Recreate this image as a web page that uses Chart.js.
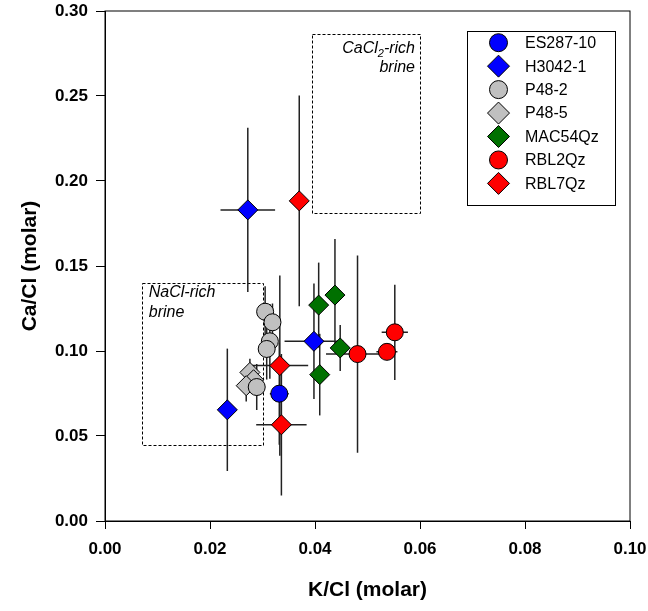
<!DOCTYPE html>
<html>
<head>
<meta charset="utf-8">
<script src="https://cdn.jsdelivr.net/npm/chart.js@4.4.1/dist/chart.umd.min.js"></script>
<style>
  html, body { margin: 0; padding: 0; background: #fff; }
</style>
</head>
<body>
<canvas id="chart" width="648" height="611"></canvas>
<script>
// ---- data: x = K/Cl, y = Ca/Cl (molar), with +/- errors ----
const seriesNames = ['ES287-10', 'H3042-1', 'P48-2', 'P48-5', 'MAC54Qz', 'RBL2Qz', 'RBL7Qz'];

const es287X    = [0.0332];
const es287Y    = [0.0749];
const es287XErr = [0.0018];
const es287YErr = [0.030];

const h3042X    = [0.0272, 0.0233, 0.0398];
const h3042Y    = [0.1830, 0.0654, 0.1057];
const h3042XErr = [0.0052, 0, 0.0056];
const h3042YErr = [0.0483, 0.036, 0.034];

const p482X    = [0.0305, 0.0319, 0.0314, 0.0308, 0.0289];
const p482Y    = [0.1231, 0.1169, 0.1057, 0.1012, 0.0788];
const p482XErr = [0, 0.0008, 0, 0, 0.0006];
const p482YErr = [0.015, 0.011, 0.022, 0.018, 0.0135];

const p485X    = [0.0276, 0.0283, 0.0269];
const p485Y    = [0.0874, 0.0831, 0.0796];
const p485XErr = [0, 0, 0];
const p485YErr = [0.008, 0.008, 0.0093];

const mac54X    = [0.0407, 0.0438, 0.0448, 0.0409];
const mac54Y    = [0.1270, 0.1329, 0.1018, 0.0861];
const mac54XErr = [0, 0, 0, 0];
const mac54YErr = [0.025, 0.033, 0.0135, 0.024];

const rbl2X    = [0.0481, 0.0537, 0.0552];
const rbl2Y    = [0.0982, 0.0995, 0.1110];
const rbl2XErr = [0.006, 0.002, 0.0025];
const rbl2YErr = [0.058, 0.004, 0.028];

const rbl7X    = [0.0370, 0.0333, 0.0336];
const rbl7Y    = [0.1883, 0.0914, 0.0566];
const rbl7XErr = [0, 0.0054, 0.0048];
const rbl7YErr = [0.062, 0.053, 0.0416];

const xTicks = [0, 0.02, 0.04, 0.06, 0.08, 0.10];
const yTicks = [0, 0.05, 0.10, 0.15, 0.20, 0.25, 0.30];

// field regions (data coords)
const caclBox = { x0: 0.0395, x1: 0.060, y0: 0.181, y1: 0.2865 };
const naclBox = { x0: 0.007,  x1: 0.030, y0: 0.045, y1: 0.140 };

function pts(xs, ys, xe, ye) {
  return xs.map((x, i) => ({ x: x, y: ys[i], xErr: xe[i], yErr: ye[i] }));
}

const FONT = 'Liberation Sans, Arial, Helvetica, sans-serif';

function ds(label, data, color, style) {
  return {
    label: label,
    data: data,
    backgroundColor: color,
    borderColor: '#000',
    borderWidth: 1,
    pointStyle: style,
    pointRadius: style === 'circle' ? 8.5 : 10,
    pointHoverRadius: style === 'circle' ? 8.5 : 10,
    showLine: false
  };
}

const datasets = [
  ds(seriesNames[0], pts(es287X, es287Y, es287XErr, es287YErr), '#0000ff', 'circle'),
  ds(seriesNames[1], pts(h3042X, h3042Y, h3042XErr, h3042YErr), '#0000ff', 'rectRot'),
  ds(seriesNames[2], pts(p482X, p482Y, p482XErr, p482YErr), '#c0c0c0', 'circle'),
  ds(seriesNames[3], pts(p485X, p485Y, p485XErr, p485YErr), '#c0c0c0', 'rectRot'),
  ds(seriesNames[4], pts(mac54X, mac54Y, mac54XErr, mac54YErr), '#007000', 'rectRot'),
  ds(seriesNames[5], pts(rbl2X, rbl2Y, rbl2XErr, rbl2YErr), '#ff0000', 'circle'),
  ds(seriesNames[6], pts(rbl7X, rbl7Y, rbl7XErr, rbl7YErr), '#ff0000', 'rectRot')
];

// error bars, drawn under the markers
const errorBars = {
  id: 'errorBars',
  beforeDatasetsDraw(chart) {
    const ctx = chart.ctx;
    const xs = chart.scales.x, ys = chart.scales.y;
    ctx.save();
    ctx.strokeStyle = '#222';
    ctx.lineWidth = 1.5;
    chart.data.datasets.forEach(d => {
      d.data.forEach(p => {
        const px = xs.getPixelForValue(p.x), py = ys.getPixelForValue(p.y);
        ctx.beginPath();
        if (p.yErr) {
          ctx.moveTo(px, ys.getPixelForValue(p.y - p.yErr));
          ctx.lineTo(px, ys.getPixelForValue(p.y + p.yErr));
        }
        if (p.xErr) {
          ctx.moveTo(xs.getPixelForValue(p.x - p.xErr), py);
          ctx.lineTo(xs.getPixelForValue(p.x + p.xErr), py);
        }
        ctx.stroke();
      });
    });
    ctx.restore();
  }
};

// dashed field boxes with their labels, plus the top/right frame
const fields = {
  id: 'fields',
  beforeDatasetsDraw(chart) {
    const ctx = chart.ctx;
    const xs = chart.scales.x, ys = chart.scales.y;
    const a = chart.chartArea;
    ctx.save();
    ctx.strokeStyle = '#000';
    ctx.lineWidth = 1;
    ctx.strokeRect(a.left, a.top, a.right - a.left, a.bottom - a.top);

    ctx.setLineDash([3, 2]);
    [caclBox, naclBox].forEach(b => {
      const l = xs.getPixelForValue(b.x0), r = xs.getPixelForValue(b.x1);
      const t = ys.getPixelForValue(b.y1), bt = ys.getPixelForValue(b.y0);
      ctx.strokeRect(Math.round(l) + 0.5, Math.round(t) + 0.5, Math.round(r - l), Math.round(bt - t));
    });
    ctx.setLineDash([]);

    ctx.fillStyle = '#000';
    ctx.textBaseline = 'middle';
    const big = 'italic 16px ' + FONT, small = 'italic 11px ' + FONT;

    // CaCl2-rich brine, right aligned inside the box
    const cr = xs.getPixelForValue(caclBox.x1) - 5;
    const ct = ys.getPixelForValue(caclBox.y1);
    ctx.font = big;  const w1 = ctx.measureText('CaCl').width, w3 = ctx.measureText('-rich').width;
    ctx.font = small; const w2 = ctx.measureText('2').width;
    let x = cr - (w1 + w2 + w3);
    ctx.textAlign = 'left';
    ctx.font = big;  ctx.fillText('CaCl', x, ct + 15); x += w1;
    ctx.font = small; ctx.fillText('2', x, ct + 20); x += w2;
    ctx.font = big;  ctx.fillText('-rich', x, ct + 15);
    ctx.textAlign = 'right';
    ctx.fillText('brine', cr, ct + 34);

    // NaCl-rich brine, left aligned
    const nl = xs.getPixelForValue(naclBox.x0) + 7;
    const nt = ys.getPixelForValue(naclBox.y1);
    ctx.textAlign = 'left';
    ctx.fillText('NaCl-rich', nl, nt + 10);
    ctx.fillText('brine', nl, nt + 30);
    ctx.restore();
  }
};

// boxed legend in the upper right
const boxLegend = {
  id: 'boxLegend',
  afterDraw(chart) {
    const ctx = chart.ctx;
    ctx.save();
    ctx.strokeStyle = '#000';
    ctx.lineWidth = 1;
    ctx.strokeRect(467.5, 31.5, 148, 174);
    ctx.font = '16px ' + FONT;
    ctx.textBaseline = 'middle';
    ctx.textAlign = 'left';
    chart.data.datasets.forEach((d, i) => {
      const y = 42.7 + i * 23.45;
      ctx.fillStyle = d.backgroundColor;
      ctx.strokeStyle = '#000';
      ctx.lineWidth = 1;
      Chart.helpers.drawPoint(ctx, {
        pointStyle: d.pointStyle,
        radius: d.pointStyle === 'circle' ? 9 : 11,
        rotation: 0,
        borderWidth: 1
      }, 498.5, y);
      ctx.fillStyle = '#000';
      ctx.fillText(d.label, 525, y + 1);
    });
    ctx.restore();
  }
};

const tickFont = { family: FONT, size: 17, weight: 'bold' };
const titleFont = { family: FONT, size: 21, weight: 'bold' };

new Chart(document.getElementById('chart'), {
  type: 'scatter',
  data: { datasets: datasets },
  options: {
    responsive: false,
    animation: false,
    events: [],
    layout: { padding: { top: 11, right: 18, left: 0, bottom: 0 } },
    plugins: { legend: { display: false }, tooltip: { enabled: false } },
    scales: {
      x: {
        type: 'linear', min: 0, max: 0.1,
        afterBuildTicks: s => { s.ticks = xTicks.map(v => ({ value: v })); },
        afterFit: s => { s.height = 90; s.paddingLeft = 0; s.paddingRight = 0; },
        ticks: { color: '#000', font: tickFont, padding: 10, callback: v => v.toFixed(2) },
        grid: { drawOnChartArea: false, tickLength: 8, color: '#000', lineWidth: 1 },
        border: { color: '#000', width: 1 },
        title: { display: true, text: 'K/Cl (molar)', color: '#000', font: titleFont, padding: { top: 0, bottom: 8 } }
      },
      y: {
        type: 'linear', min: 0, max: 0.3,
        afterBuildTicks: s => { s.ticks = yTicks.map(v => ({ value: v })); },
        afterFit: s => { s.width = 105; s.paddingTop = 0; s.paddingBottom = 0; },
        ticks: { color: '#000', font: tickFont, padding: 8, callback: v => v.toFixed(2) },
        grid: { drawOnChartArea: false, tickLength: 9, color: '#000', lineWidth: 1 },
        border: { color: '#000', width: 1 },
        title: { display: true, text: 'Ca/Cl (molar)', color: '#000', font: titleFont, padding: { top: 18, bottom: 0 } }
      }
    }
  },
  plugins: [fields, errorBars, boxLegend]
});
</script>
</body>
</html>
